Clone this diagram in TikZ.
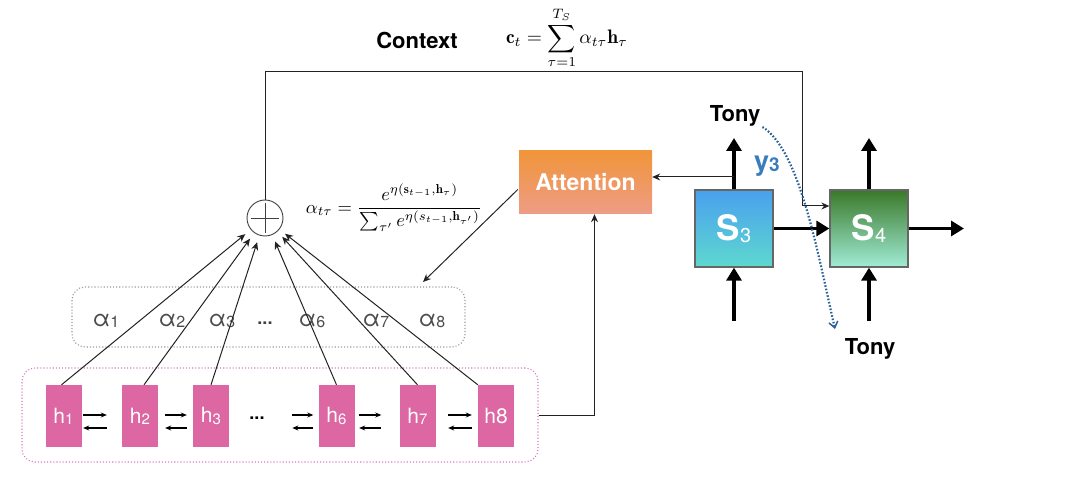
\documentclass[tikz,border=0pt]{standalone}
\usepackage{fontspec}
\setsansfont{TeX Gyre Heros}
\usepackage{amsmath}
\usepackage{graphicx}
\usetikzlibrary{arrows.meta,calc}
\definecolor{hpink}{HTML}{DC67A3}
\definecolor{framepink}{HTML}{D67BC0}
\definecolor{framegray}{HTML}{9A9A9A}
\definecolor{atttop}{HTML}{F0953A}
\definecolor{attbot}{HTML}{EE9C86}
\definecolor{sthreetop}{HTML}{4AA0EE}
\definecolor{sthreebot}{HTML}{5ED8CF}
\definecolor{sfourtop}{HTML}{3A7828}
\definecolor{sfourbot}{HTML}{A0ECD6}
\definecolor{ybl}{HTML}{3A7DBC}
\definecolor{dotbl}{HTML}{2A6198}
\definecolor{linec}{HTML}{222222}
\newcommand{\subd}[2][14]{\raisebox{-0.1ex}{\fontsize{#1}{#1}\selectfont #2}}
\begin{document}
\begin{tikzpicture}[x=1pt,y=-1pt,
  hbox/.style={fill=hpink, minimum width=36, minimum height=62, inner sep=0, text=white, font=\sffamily\fontsize{21}{21}\selectfont},
  albl/.style={text=black!70, font=\sffamily\fontsize{23}{23}\selectfont, inner sep=0},
  sa/.style={line width=1pt, draw=linec, -{Stealth[length=8pt,width=7pt]}},
  smalla/.style={line width=1.1pt, draw=black, -{Stealth[length=6pt,width=5pt]}},
  thick arr/.style={line width=3.8pt, draw=black, -{Triangle[length=13pt,width=15pt]}},
  sbox/.style={draw=black!60, line width=1.3pt, minimum width=78, minimum height=77, inner sep=0, text=white, font=\sffamily\bfseries\fontsize{35}{35}\selectfont},
  bold lbl/.style={font=\sffamily\bfseries\fontsize{22}{24}\selectfont, inner sep=0},
  frame/.style={dotted, line width=1.1pt, rounded corners=13, inner sep=0}
]
\useasboundingbox (0,0) rectangle (1080,494);

% frames
\node[frame, draw=framepink, minimum width=516, minimum height=94] (hframe) at (280,415) {};
\node[frame, draw=framegray, minimum width=393, minimum height=60] (aframe) at (268.5,317) {};

% h boxes
\node[hbox] (h1) at (63.5,416) {h\subd[15]{1}};
\node[hbox] (h2) at (140,416) {h\subd[15]{2}};
\node[hbox] (h3) at (211,416) {h\subd[15]{3}};
\node[hbox] (h6) at (336.5,416) {h\subd[15]{6}};
\node[hbox] (h7) at (417.5,416) {h\subd[15]{7}};
\node[hbox] (h8) at (496,416) {h8};
\node[font=\sffamily\bfseries\fontsize{18}{18}\selectfont, inner sep=0] (hdots) at (257,418) {...};

% bidirectional small arrows
\draw[smalla] ($(h1.east)+(1.5,-1)$) -- ($(h2.west)+(-15,-1)$);
\draw[smalla] ($(h2.west)+(-15,12)$) -- ($(h1.east)+(1.5,12)$);
\draw[smalla] ($(h2.east)+(7,-1)$) -- ($(h3.west)+(-6,-1)$);
\draw[smalla] ($(h3.west)+(-6,12)$) -- ($(h2.east)+(7,12)$);
\draw[smalla] ($(h6.west)+(-26,-1)$) -- ($(h6.west)+(-5,-1)$);
\draw[smalla] ($(h6.west)+(-5,12)$) -- ($(h6.west)+(-26,12)$);
\draw[smalla] ($(h6.east)+(4.5,-1)$) -- ($(h7.west)+(-18,-1)$);
\draw[smalla] ($(h7.west)+(-18,12)$) -- ($(h6.east)+(4.5,12)$);
\draw[smalla] ($(h7.east)+(12.5,-1)$) -- ($(h8.west)+(-6,-1)$);
\draw[smalla] ($(h8.west)+(-6,12)$) -- ($(h7.east)+(12.5,12)$);

% alpha labels
\node[albl] (a1) at (106,321) {α\subd[16]{1}};
\node[albl] (a2) at (172,321) {α\subd[16]{2}};
\node[albl] (a3) at (222,321) {α\subd[16]{3}};
\node[font=\sffamily\bfseries\fontsize{18}{18}\selectfont, inner sep=0, text=black!75] (adots) at (265,323) {...};
\node[albl] (a6) at (312,321) {α\subd[16]{6}};
\node[albl] (a7) at (376,321) {α\subd[16]{7}};
\node[albl] (a8) at (432,321) {α\subd[16]{8}};

% sum circle
\node[circle, draw=black!75, line width=0.9pt, minimum size=36, inner sep=0] (plus) at (265,218) {};
\draw[black!75, line width=0.9pt] ($(plus.north)+(0,3)$) -- ($(plus.south)+(0,-3)$);
\draw[black!75, line width=0.9pt] ($(plus.west)+(4,0)$) -- ($(plus.east)+(-4,0)$);

% h to circle
\draw[sa, shorten >=7pt] ([xshift=-2]h1.north) -- (plus);
\draw[sa, shorten >=7pt] ([xshift=4]h2.north) -- (plus);
\draw[sa, shorten >=7pt] (h3.north) -- (plus);
\draw[sa, shorten >=7pt] (h6.north) -- (plus);
\draw[sa, shorten >=7pt] (h7.north) -- (plus);
\draw[sa, shorten >=7pt] (h8.north west) -- (plus);

% formulas
\node[bold lbl] (ctext) at (417,40) {Context};
\node[inner sep=0] (cform) at (567,38) {\scalebox{1.95}{$\displaystyle \mathbf{c}_t=\sum_{\tau=1}^{T_S}\alpha_{t\tau}\mathbf{h}_\tau$}};
\node[inner sep=0] (aform) at (394,208) {\scalebox{1.85}{$\displaystyle \alpha_{t\tau}=\frac{e^{\eta(\mathbf{s}_{t-1},\mathbf{h}_\tau)}}{\sum_{\tau'}e^{\eta(s_{t-1},\mathbf{h}_{\tau'})}}$}};

% attention
\node[top color=atttop, bottom color=attbot, minimum width=133, minimum height=63, inner sep=0, text=white, font=\sffamily\bfseries\fontsize{23}{23}\selectfont] (att) at (585.5,182.5) {Attention};

% decoder states
\node[sbox, top color=sthreetop, bottom color=sthreebot] (s3) at (734,228.5) {S\subd[20]{\mdseries 3}};
\node[sbox, top color=sfourtop, bottom color=sfourbot] (s4) at (869,228.5) {S\subd[20]{\mdseries 4}};

\coordinate (s3top) at (734,138);
\coordinate (s3bot) at (734,321);
\coordinate (s4top) at (869,138);
\coordinate (s4bot) at (869,321);
\coordinate (s4out) at (964,228.5);
\draw[thick arr] (s3.north) -- (s3top);
\draw[thick arr] (s4.north) -- (s4top);
\draw[thick arr] (s3bot) -- (s3.south);
\draw[thick arr] (s4bot) -- (s4.south);
\draw[thick arr] (s3.east) -- (s4.west);
\draw[thick arr] (s4.east) -- (s4out);

% context path
\coordinate (ctop) at (802,72);
\coordinate (s4in) at ($(s4.west)+(0,-22.5)$);
\draw[sa] (plus.north) |- (ctop) |- (s4in);

% s3 -> attention
\coordinate (attin) at ($(att.east)+(0,-5.5)$);
\draw[sa] (attin -| s3.north) -- (attin);
% attention -> alpha
\coordinate (atip) at (423,282);
\coordinate (aout) at ($(att.west)+(-1,7)$);
\draw[sa] (aout) -- (atip);
% h8 -> attention
\draw[sa] (hframe.east |- h8) -| ([xshift=9]att.south);

% labels
\node[bold lbl] (tony1) at (735,116) {Tony};
\node[bold lbl] (tony2) at (870,349) {Tony};
\node[text=ybl, font=\sffamily\bfseries\fontsize{27}{27}\selectfont, inner sep=0] (y3) at (767,166) {y\subd[19]{3}};

% dotted curve
\coordinate (cstart) at ($(tony1.east)+(2,11)$);
\coordinate (ctip) at (835,329);
\draw[dotbl, line width=2.2pt, dash pattern=on 1.6pt off 1.8pt, -{Straight Barb[length=6pt,width=9pt,line width=1.5pt]}] (cstart) .. controls (800,150) and (818,255) .. (ctip);
\end{tikzpicture}
\end{document}
